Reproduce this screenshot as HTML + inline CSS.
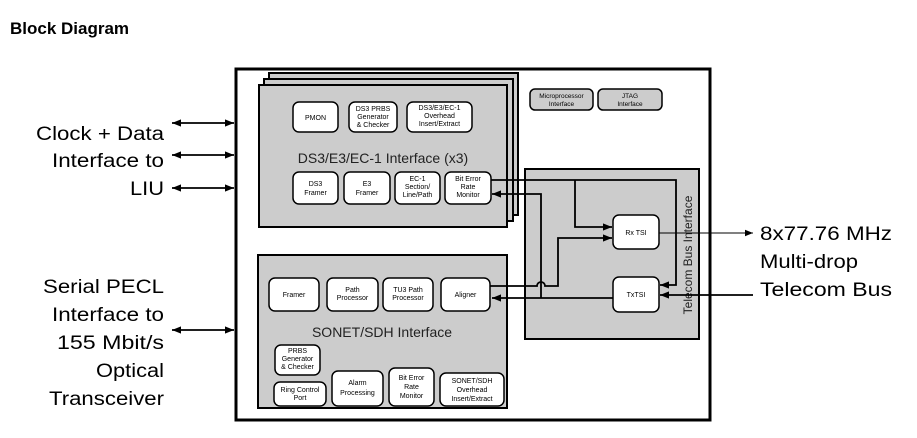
<!DOCTYPE html>
<html><head><meta charset="utf-8"><style>
body{margin:0;background:#fff;}
svg{display:block;font-family:"Liberation Sans",Arial,sans-serif;}
</style></head><body>
<svg width="917" height="438" viewBox="0 0 917 438" xmlns="http://www.w3.org/2000/svg">
<defs>
<marker id="a" viewBox="0 0 10 10" refX="10" refY="5" markerWidth="6" markerHeight="5" orient="auto-start-reverse"><path d="M0,1 L10,5 L0,9z" fill="#000"/></marker>
<marker id="b" viewBox="0 0 10 10" refX="10" refY="5" markerWidth="10" markerHeight="8" orient="auto-start-reverse"><path d="M0,1 L10,5 L0,9z" fill="#000"/></marker>
</defs>
<text x="10" y="34" font-size="17" font-weight="bold">Block Diagram</text>

<rect x="236" y="69" width="474" height="351" fill="#fff" stroke="#000" stroke-width="3"/>

<g fill="#ccc" stroke="#000" stroke-width="2">
<rect x="269" y="73" width="249" height="142"/>
<rect x="264" y="79" width="249" height="142"/>
<rect x="259" y="85" width="248" height="142"/>
</g>
<g fill="#fff" stroke="#000" stroke-width="1.5">
<rect x="293" y="102" width="45" height="30" rx="6"/>
<rect x="349" y="102" width="48" height="30" rx="6"/>
<rect x="407" y="102" width="65" height="30" rx="6"/>
<rect x="293" y="172" width="45" height="32" rx="6"/>
<rect x="344" y="172" width="46" height="32" rx="6"/>
<rect x="395" y="172" width="45" height="32" rx="6"/>
<rect x="445" y="172" width="46" height="32" rx="6"/>
</g>
<g font-size="7" text-anchor="middle">
<text x="315.5" y="120">PMON</text>
<text x="373" y="111">DS3 PRBS</text><text x="373" y="119">Generator</text><text x="373" y="127">&amp; Checker</text>
<text x="439.5" y="110">DS3/E3/EC-1</text><text x="439.5" y="118">Overhead</text><text x="439.5" y="126">Insert/Extract</text>
<text x="315.5" y="186">DS3</text><text x="315.5" y="195">Framer</text>
<text x="367" y="186">E3</text><text x="367" y="195">Framer</text>
<text x="417.5" y="181">EC-1</text><text x="417.5" y="189">Section/</text><text x="417.5" y="197">Line/Path</text>
<text x="468" y="181">Bit Error</text><text x="468" y="189">Rate</text><text x="468" y="197">Monitor</text>
</g>
<text x="383" y="163" font-size="14" text-anchor="middle" fill="#222">DS3/E3/EC-1 Interface (x3)</text>

<g fill="#ccc" stroke="#000" stroke-width="1.5">
<rect x="530" y="89" width="63" height="21" rx="5"/>
<rect x="598" y="89" width="64" height="21" rx="5"/>
</g>
<g font-size="6.5" text-anchor="middle">
<text x="561.5" y="98">Microprocessor</text><text x="561.5" y="106">Interface</text>
<text x="630" y="98">JTAG</text><text x="630" y="106">Interface</text>
</g>

<rect x="525" y="169" width="174" height="170" fill="#ccc" stroke="#000" stroke-width="2"/>
<g fill="#fff" stroke="#000" stroke-width="1.5">
<rect x="613" y="215" width="46" height="34" rx="6"/>
<rect x="613" y="277" width="46" height="35" rx="6"/>
</g>
<text x="636" y="235" font-size="7" text-anchor="middle">Rx TSI</text>
<text x="636" y="297" font-size="7" text-anchor="middle">TxTSI</text>
<text transform="translate(692,255) rotate(-90)" font-size="12" text-anchor="middle" fill="#222">Telecom Bus Interface</text>

<rect x="258" y="255" width="249" height="153" fill="#ccc" stroke="#000" stroke-width="2"/>
<g fill="#fff" stroke="#000" stroke-width="1.5">
<rect x="269" y="278" width="50" height="33" rx="6"/>
<rect x="327" y="278" width="51" height="33" rx="6"/>
<rect x="383" y="278" width="50" height="33" rx="6"/>
<rect x="441" y="278" width="49" height="33" rx="6"/>
<rect x="275" y="345" width="45" height="30" rx="6"/>
<rect x="274" y="382" width="52" height="24" rx="6"/>
<rect x="332" y="371" width="51" height="35" rx="6"/>
<rect x="389" y="368" width="45" height="38" rx="6"/>
<rect x="440" y="373" width="64" height="33" rx="6"/>
</g>
<g font-size="7" text-anchor="middle">
<text x="294" y="297">Framer</text>
<text x="352.5" y="292">Path</text><text x="352.5" y="300">Processor</text>
<text x="408" y="292">TU3 Path</text><text x="408" y="300">Processor</text>
<text x="465.5" y="297">Aligner</text>
<text x="297.5" y="353">PRBS</text><text x="297.5" y="361">Generator</text><text x="297.5" y="369">&amp; Checker</text>
<text x="300" y="392">Ring Control</text><text x="300" y="400">Port</text>
<text x="357.5" y="385">Alarm</text><text x="357.5" y="395">Processing</text>
<text x="411.5" y="380">Bit Error</text><text x="411.5" y="389">Rate</text><text x="411.5" y="398">Monitor</text>
<text x="472" y="383">SONET/SDH</text><text x="472" y="392">Overhead</text><text x="472" y="401">Insert/Extract</text>
</g>
<text x="382" y="337" font-size="14" text-anchor="middle" fill="#222">SONET/SDH Interface</text>

<g fill="none" stroke="#000" stroke-width="1.8">
<path d="M491,180 H676 V285 H660" marker-end="url(#a)"/>
<path d="M575,180 V227 H612" marker-end="url(#a)"/>
<path d="M541,298 V194 H492" marker-end="url(#a)"/>
<path d="M613,298 H492" marker-end="url(#a)"/>
<path d="M490,286 H537 a4,4 0 0 1 8,0 H558 V238 H612" marker-end="url(#a)"/>
<path d="M753,295 H660" marker-end="url(#a)"/>
<path d="M172,123 H234" marker-start="url(#a)" marker-end="url(#a)"/>
<path d="M172,155 H234" marker-start="url(#a)" marker-end="url(#a)"/>
<path d="M172,188 H234" marker-start="url(#a)" marker-end="url(#a)"/>
<path d="M172,330 H234" marker-start="url(#a)" marker-end="url(#a)"/>
</g>
<path d="M659,233 H753" fill="none" stroke="#000" stroke-width="1" marker-end="url(#b)"/>

<g font-size="19" text-anchor="end" lengthAdjust="spacingAndGlyphs">
<text x="164" y="140" textLength="128" lengthAdjust="spacingAndGlyphs">Clock + Data</text>
<text x="164" y="167" textLength="112" lengthAdjust="spacingAndGlyphs">Interface to</text>
<text x="164" y="195" textLength="34" lengthAdjust="spacingAndGlyphs">LIU</text>
<text x="164" y="293" textLength="121" lengthAdjust="spacingAndGlyphs">Serial PECL</text>
<text x="164" y="321" textLength="112" lengthAdjust="spacingAndGlyphs">Interface to</text>
<text x="164" y="349" textLength="107" lengthAdjust="spacingAndGlyphs">155 Mbit/s</text>
<text x="164" y="377" textLength="68" lengthAdjust="spacingAndGlyphs">Optical</text>
<text x="164" y="405" textLength="115" lengthAdjust="spacingAndGlyphs">Transceiver</text>
</g>
<g font-size="19">
<text x="760" y="240" textLength="132" lengthAdjust="spacingAndGlyphs">8x77.76 MHz</text>
<text x="760" y="268" textLength="98" lengthAdjust="spacingAndGlyphs">Multi-drop</text>
<text x="760" y="296" textLength="132" lengthAdjust="spacingAndGlyphs">Telecom Bus</text>
</g>
</svg>
</body></html>
